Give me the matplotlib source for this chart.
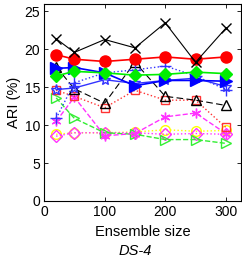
import matplotlib
matplotlib.use('Agg')
import matplotlib.pyplot as plt

plt.rcParams['font.family'] = ['Liberation Sans', 'DejaVu Sans']

ensemble = [20, 50, 100, 150, 200, 250, 300]

black_x = [21.4, 19.6, 21.3, 20.2, 23.5, 18.3, 22.8]
red_circle = [19.3, 18.7, 18.4, 18.7, 19.0, 18.7, 19.0]
green_diamond = [16.5, 17.1, 16.9, 16.6, 16.7, 17.0, 16.8]
blue_tri = [17.5, 17.6, 16.9, 15.2, 15.9, 15.9, 15.8]
blue_plus = [10.9, 15.6, 16.9, 17.3, 17.8, 16.5, 14.7]
blue_star = [14.7, 14.9, 16.0, 15.5, 15.9, 16.2, 15.1]
black_tri = [17.7, 14.8, 12.9, 18.3, 13.8, 13.3, 12.6]
red_square = [14.6, 13.8, 12.3, 14.6, 13.3, 13.3, 9.7]
green_tri = [13.6, 10.9, 9.0, 8.8, 8.1, 8.1, 7.6]
magenta_star = [10.5, 13.7, 8.6, 8.9, 11.1, 11.6, 8.9]
yellow_circle = [8.8, 9.0, 9.0, 9.1, 9.4, 9.2, 9.3]
magenta_diamond = [8.55, 9.0, 9.0, 9.0, 8.8, 8.9, 8.8]

fig = plt.figure(figsize=(2.42, 2.59), dpi=100)
ax = fig.add_axes([0.182, 0.224, 0.814, 0.761])

mfc_none = 'none'
ax.plot(ensemble, yellow_circle, ':', color='#ffff00', marker='o', ms=7, mfc=mfc_none, lw=1)
ax.plot(ensemble, magenta_diamond, ':', color='#ff33ff', marker='D', ms=6, mfc=mfc_none, lw=1)
ax.plot(ensemble, green_tri, '--', color='#33ee33', marker='>', ms=7, mfc=mfc_none, lw=1)
ax.plot(ensemble, magenta_star, '--', color='#ff33ff', marker=(6, 2, 0), ms=7, mew=1, lw=1)
ax.plot(ensemble, red_square, ':', color='#ff3333', marker='s', ms=6, mfc=mfc_none, lw=1)
ax.plot(ensemble, black_tri, '--', color='black', marker='^', ms=7, mfc=mfc_none, lw=0.8, dashes=(6, 3))
ax.plot(ensemble, blue_star, '-', color='#3333ff', marker='*', ms=8, mfc=mfc_none, lw=1)
ax.plot(ensemble, blue_plus, ':', color='#3333ff', marker='+', ms=8, lw=1)
ax.plot(ensemble, blue_tri, '-', color='#0000ff', marker='>', ms=8, lw=1.2)
ax.plot(ensemble, green_diamond, '-', color='#00ee00', marker='D', ms=6, lw=1.2)
ax.plot(ensemble, red_circle, '-', color='#ff0000', marker='o', ms=8, lw=1.2)
ax.plot(ensemble, black_x, '-', color='black', marker='x', ms=7, lw=0.8)

ax.set_xlim(0, 325)
ax.set_ylim(0, 26)
ax.set_xticks([0, 100, 200, 300])
ax.set_yticks([0, 5, 10, 15, 20, 25])
ax.tick_params(direction='in', top=True, right=True, labelsize=10, length=3, width=0.6, pad=3)
for s in ax.spines.values():
    s.set_linewidth(0.8)
ax.set_xlabel('Ensemble size', fontsize=10.5, labelpad=4)
ax.set_ylabel('ARI (%)', fontsize=10.5, labelpad=2)
fig.text(0.56, 0.016, 'DS-4', fontsize=10.5, style='italic', ha='center')

fig.savefig('out.png', dpi=100)
